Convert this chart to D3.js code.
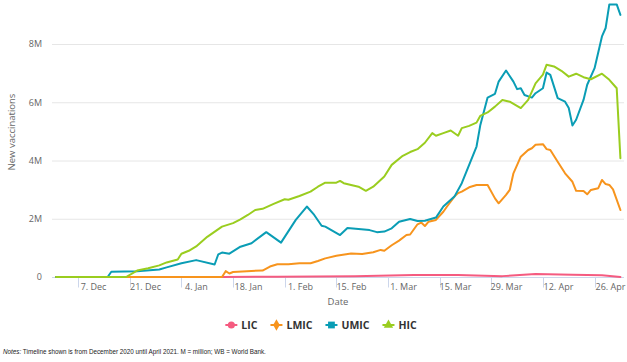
<!DOCTYPE html>
<html>
<head>
<meta charset="utf-8">
<script src="https://cdn.jsdelivr.net/npm/d3@7"></script>
<style>
  body { margin: 0; background: #fff; }
  svg text { font-family: "Open Sans", sans-serif; }
</style>
</head>
<body>
<div id="vacc_chart"></div>
<script>
// #### data (values in millions of new vaccinations)
const licDates = ['2020-12-01','2021-01-15','2021-01-30','2021-02-20','2021-03-08','2021-03-20','2021-04-01','2021-04-10','2021-04-20','2021-04-28','2021-05-03'];
const licValues = [0, 0, 0.01, 0.03, 0.07, 0.07, 0.03, 0.10, 0.08, 0.06, 0];

const lmicDates = ['2020-12-01','2021-01-15','2021-01-16','2021-01-17','2021-01-18','2021-01-23','2021-01-26','2021-01-28','2021-01-30','2021-02-02',
  '2021-02-05','2021-02-08','2021-02-10','2021-02-12','2021-02-15','2021-02-19','2021-02-22','2021-02-25','2021-02-27','2021-02-28',
  '2021-03-02','2021-03-04','2021-03-06','2021-03-07','2021-03-09','2021-03-10','2021-03-11','2021-03-12','2021-03-14','2021-03-16',
  '2021-03-17','2021-03-19','2021-03-20','2021-03-21','2021-03-23','2021-03-25','2021-03-28','2021-03-30','2021-03-31','2021-04-02',
  '2021-04-03','2021-04-04','2021-04-06','2021-04-08','2021-04-09','2021-04-10','2021-04-12','2021-04-13','2021-04-14','2021-04-16',
  '2021-04-18','2021-04-20','2021-04-21','2021-04-23','2021-04-24','2021-04-25','2021-04-27','2021-04-28','2021-04-29','2021-04-30',
  '2021-05-01','2021-05-03'];
const lmicValues = [0, 0, 0.20, 0.12, 0.17, 0.21, 0.22, 0.36, 0.44, 0.44,
  0.47, 0.47, 0.55, 0.64, 0.73, 0.81, 0.79, 0.85, 0.93, 0.90,
  1.09, 1.25, 1.44, 1.46, 1.81, 1.87, 1.75, 1.90, 1.96, 2.24,
  2.42, 2.76, 2.88, 2.93, 3.08, 3.16, 3.16, 2.70, 2.53, 2.82,
  2.99, 3.56, 4.13, 4.36, 4.42, 4.54, 4.56, 4.39, 4.36, 3.96,
  3.56, 3.27, 2.96, 2.95, 2.84, 2.99, 3.05, 3.33, 3.19, 3.16,
  3.01, 2.30];

const umicDates = ['2020-12-01','2020-12-15','2020-12-16','2020-12-23','2020-12-29','2020-12-31','2021-01-04','2021-01-08','2021-01-13','2021-01-14',
  '2021-01-15','2021-01-17','2021-01-20','2021-01-23','2021-01-27','2021-01-31','2021-02-04','2021-02-07','2021-02-09','2021-02-11',
  '2021-02-12','2021-02-16','2021-02-18','2021-02-21','2021-02-24','2021-02-26','2021-02-28','2021-03-02','2021-03-04','2021-03-07',
  '2021-03-09','2021-03-11','2021-03-14','2021-03-16','2021-03-19','2021-03-21','2021-03-23','2021-03-25','2021-03-26','2021-03-28',
  '2021-03-30','2021-03-31','2021-04-02','2021-04-04','2021-04-05','2021-04-06','2021-04-07','2021-04-09','2021-04-10','2021-04-12',
  '2021-04-13','2021-04-14','2021-04-16','2021-04-18','2021-04-19','2021-04-20','2021-04-21','2021-04-23','2021-04-24','2021-04-26',
  '2021-04-28','2021-04-29','2021-04-30','2021-05-02','2021-05-03'];
const umicValues = [0, 0, 0.18, 0.20, 0.26, 0.33, 0.47, 0.58, 0.43, 0.78,
  0.84, 0.80, 1.04, 1.16, 1.54, 1.18, 1.96, 2.42, 2.13, 1.76,
  1.73, 1.44, 1.68, 1.65, 1.61, 1.54, 1.56, 1.67, 1.90, 1.99,
  1.92, 1.93, 2.04, 2.42, 2.76, 3.22, 3.85, 4.48, 5.20, 6.16,
  6.29, 6.71, 7.09, 6.71, 6.45, 6.48, 6.25, 6.16, 6.31, 6.48,
  7.02, 6.94, 6.14, 6.02, 5.80, 5.20, 5.40, 6.08, 6.60, 7.17,
  8.26, 8.55, 9.36, 9.36, 9.00];

const hicDates = ['2020-12-01','2020-12-20','2020-12-23','2020-12-26','2020-12-29','2020-12-31','2021-01-03','2021-01-04','2021-01-06','2021-01-08',
  '2021-01-11','2021-01-15','2021-01-18','2021-01-20','2021-01-22','2021-01-24','2021-01-26','2021-01-29','2021-02-01','2021-02-02',
  '2021-02-05','2021-02-08','2021-02-10','2021-02-12','2021-02-15','2021-02-16','2021-02-17','2021-02-19','2021-02-21','2021-02-23',
  '2021-02-25','2021-02-28','2021-03-02','2021-03-05','2021-03-07','2021-03-09','2021-03-11','2021-03-13','2021-03-14','2021-03-16',
  '2021-03-18','2021-03-20','2021-03-21','2021-03-23','2021-03-25','2021-03-26','2021-03-28','2021-03-30','2021-04-01','2021-04-03',
  '2021-04-06','2021-04-08','2021-04-10','2021-04-12','2021-04-13','2021-04-15','2021-04-17','2021-04-19','2021-04-21','2021-04-23',
  '2021-04-25','2021-04-28','2021-04-30','2021-05-02','2021-05-03'];
const hicValues = [0, 0, 0.22, 0.30, 0.40, 0.50, 0.60, 0.80, 0.90, 1.05,
  1.38, 1.73, 1.85, 1.98, 2.13, 2.30, 2.34, 2.51, 2.67, 2.65,
  2.78, 2.93, 3.10, 3.24, 3.24, 3.30, 3.22, 3.16, 3.10, 2.96,
  3.10, 3.45, 3.85, 4.16, 4.29, 4.39, 4.61, 4.94, 4.85, 4.94,
  5.03, 4.85, 5.11, 5.19, 5.30, 5.53, 5.65, 5.85, 6.08, 6.02,
  5.80, 6.08, 6.65, 6.95, 7.29, 7.23, 7.08, 6.88, 6.98, 6.86,
  6.79, 6.98, 6.77, 6.48, 4.08];

const seriesNames = ['LIC', 'LMIC', 'UMIC', 'HIC'];
const yTicks = [0, 2, 4, 6, 8];
const xTickDates = ['2020-12-07','2020-12-21','2021-01-04','2021-01-18','2021-02-01','2021-02-15',
  '2021-03-01','2021-03-15','2021-03-29','2021-04-12','2021-04-26'];

const parseDate = d3.timeParse('%Y-%m-%d');
const formatTick = d3.timeFormat('%-d. %b');

// series styling (Highcharts-like default markers: circle, diamond, square, triangle)
const seriesStyle = {
  'LIC':  { color: '#f55b80', symbol: d3.symbolCircle, size: 40 },
  'LMIC': { color: '#f7941d', symbol: d3.symbolDiamond, size: 38 },
  'UMIC': { color: '#0a9db5', symbol: d3.symbolSquare, size: 46 },
  'HIC':  { color: '#9acd1f', symbol: d3.symbolTriangle, size: 38 },
};

const seriesData = {
  'LIC':  licDates.map((d, i) => ({ date: parseDate(d), value: licValues[i] })),
  'LMIC': lmicDates.map((d, i) => ({ date: parseDate(d), value: lmicValues[i] })),
  'UMIC': umicDates.map((d, i) => ({ date: parseDate(d), value: umicValues[i] })),
  'HIC':  hicDates.map((d, i) => ({ date: parseDate(d), value: hicValues[i] })),
};

const width = 627;
const height = 362;
const plot = { left: 52, right: 624, bottom: 277 };

const svg = d3.select('#vacc_chart')
  .append('svg')
  .attr('width', width)
  .attr('height', height);

const x = d3.scaleTime()
  .domain([parseDate('2020-12-01'), parseDate('2021-05-03')])
  .range([56, 620.4]);

const y = d3.scaleLinear()
  .domain([0, 8])
  .range([plot.bottom, 44]);

// gridlines
svg.append('g')
  .attr('class', 'grid')
  .selectAll('line')
  .data(yTicks.filter(t => t > 0))
  .enter().append('line')
    .attr('x1', plot.left)
    .attr('x2', plot.right)
    .attr('y1', d => y(d) + 0.5)
    .attr('y2', d => y(d) + 0.5)
    .attr('stroke', '#e6e6e6')
    .attr('stroke-width', 1);

// y axis labels (no axis line)
svg.append('g')
  .attr('class', 'axis axis--y')
  .attr('transform', `translate(${ plot.left - 10 },0)`)
  .call(d3.axisLeft(y).tickValues(yTicks).tickSize(0).tickFormat(d => d === 0 ? '0' : d + 'M'))
  .call(g => g.select('.domain').remove())
  .call(g => g.selectAll('text')
    .attr('x', 0)
    .attr('fill', '#666')
    .style('font-size', '9px'));

// x axis: line + ticks, labels shifted right of the tick like the original
const xAxis = svg.append('g')
  .attr('class', 'axis axis--x')
  .attr('transform', `translate(0,${ plot.bottom + 0.5 })`);

xAxis.append('line')
  .attr('x1', plot.left)
  .attr('x2', plot.right)
  .attr('stroke', '#ccd6eb');

const ticks = xAxis.selectAll('.tick')
  .data(xTickDates.map(parseDate))
  .enter().append('g')
  .attr('class', 'tick')
  .attr('transform', d => `translate(${ Math.round(x(d)) + 0.5 },0)`);

ticks.append('line')
  .attr('y2', 10)
  .attr('stroke', '#ccd6eb');

ticks.append('text')
  .attr('x', 15)
  .attr('y', 12.5)
  .attr('text-anchor', 'middle')
  .attr('fill', '#666')
  .style('font-size', '9px')
  .text(d => formatTick(d));

// axis titles
svg.append('text')
  .attr('x', (plot.left + plot.right) / 2)
  .attr('y', 305)
  .attr('text-anchor', 'middle')
  .attr('fill', '#666')
  .style('font-size', '9.5px')
  .text('Date');

svg.append('text')
  .attr('transform', 'translate(15,132) rotate(-90)')
  .attr('text-anchor', 'middle')
  .attr('fill', '#666')
  .style('font-size', '9.5px')
  .text('New vaccinations');

// lines
const line = d3.line()
  .x(d => x(d.date))
  .y(d => y(d.value));

svg.append('g')
  .attr('class', 'series')
  .selectAll('path')
  .data(seriesNames)
  .enter().append('path')
    .attr('d', d => line(seriesData[d]))
    .attr('fill', 'none')
    .attr('stroke', d => seriesStyle[d].color)
    .attr('stroke-width', 2)
    .attr('stroke-linejoin', 'round')
    .attr('stroke-linecap', 'round');

// legend, centered under the chart
const legend = svg.append('g').attr('class', 'legend');
let legendX = 0;
seriesNames.forEach(name => {
  const item = legend.append('g').attr('transform', `translate(${ legendX },0)`);
  item.append('line')
    .attr('x1', 0)
    .attr('x2', 12)
    .attr('stroke', seriesStyle[name].color)
    .attr('stroke-width', 2);
  item.append('path')
    .attr('transform', 'translate(6,0)')
    .attr('d', d3.symbol().type(seriesStyle[name].symbol).size(seriesStyle[name].size)())
    .attr('fill', seriesStyle[name].color);
  const label = item.append('text')
    .attr('x', 16)
    .attr('y', 3.8)
    .attr('fill', '#333')
    .style('font-size', '10.5px')
    .style('font-weight', 'bold')
    .text(name);
  legendX += 16 + label.node().getComputedTextLength() + 13;
});
legendX -= 13;
legend.attr('transform', `translate(${ 321 - legendX / 2 },325)`);

// footnote - the original uses a condensed face, so squeeze it horizontally
const note = svg.append('text')
  .attr('transform', 'translate(3,354) scale(0.8,1)')
  .attr('fill', '#222')
  .style('font-family', '"Liberation Sans Narrow", "Liberation Sans", sans-serif')
  .style('font-size', '7.9px');
note.append('tspan').style('font-style', 'italic').text('Notes:');
note.append('tspan').text(' Timeline shown is from December 2020 until April 2021. M = million; WB = World Bank.');
</script>
</body>
</html>
